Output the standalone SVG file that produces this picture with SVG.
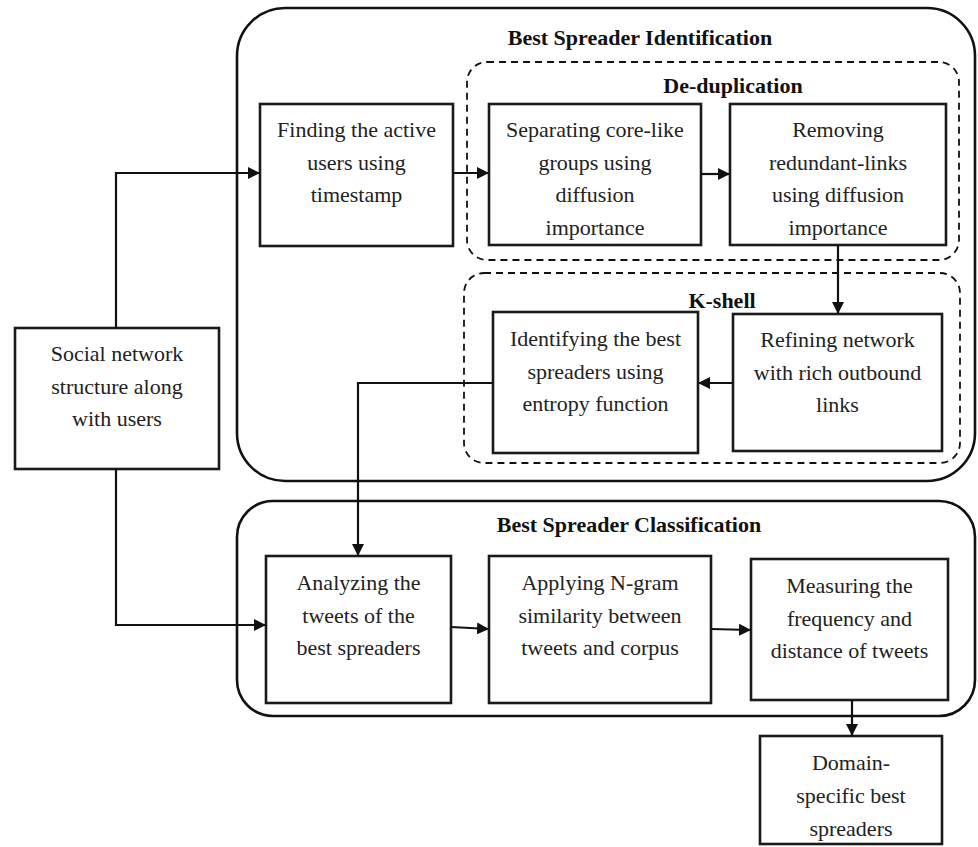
<svg xmlns="http://www.w3.org/2000/svg" width="978" height="847" viewBox="0 0 978 847">
<style>
.box{fill:#fff;stroke:#1a1a1a;stroke-width:2.6}
.cont{fill:none;stroke:#111;stroke-width:2.6}
.dash{fill:none;stroke:#111;stroke-width:1.8;stroke-dasharray:7,5}
.t{font-family:"Liberation Serif","Times New Roman",serif;font-size:22px;fill:#222;text-anchor:middle}
.h{font-family:"Liberation Serif","Times New Roman",serif;font-size:22px;font-weight:bold;fill:#111;text-anchor:middle}
.c{fill:none;stroke:#111;stroke-width:2.2}
</style>
<defs>
<marker id="ah" markerUnits="userSpaceOnUse" markerWidth="14" markerHeight="12" refX="12" refY="6" orient="auto">
<path d="M0,0 L12,6 L0,12 Z" fill="#111"/>
</marker>
</defs>
<rect width="978" height="847" fill="#fff"/>
<g id="group-identification">
<rect class="cont" x="237" y="8" width="738" height="473" rx="48" ry="48"/>
<text class="h" x="640" y="45">Best Spreader Identification</text>
</g>
<g id="group-dedup">
<rect class="dash" x="467" y="62" width="492" height="198" rx="20" ry="20"/>
<text class="h" x="733" y="93">De-duplication</text>
</g>
<g id="group-kshell">
<rect class="dash" x="464" y="273" width="496" height="190" rx="20" ry="20"/>
<text class="h" x="722" y="308">K-shell</text>
</g>
<g id="group-classification">
<rect class="cont" x="237" y="501" width="738" height="215" rx="36" ry="36"/>
<text class="h" x="629" y="532">Best Spreader Classification</text>
</g>
<g id="node-finding">
<rect class="box" x="260" y="104" width="193" height="142"/>
<text class="t" x="356.5" y="137">Finding the active</text>
<text class="t" x="356.5" y="169.5">users using</text>
<text class="t" x="356.5" y="202">timestamp</text>
</g>
<g id="node-separating">
<rect class="box" x="489" y="104" width="212" height="141"/>
<text class="t" x="595" y="137">Separating core-like</text>
<text class="t" x="595" y="169.5">groups using</text>
<text class="t" x="595" y="202">diffusion</text>
<text class="t" x="595" y="234.5">importance</text>
</g>
<g id="node-removing">
<rect class="box" x="730" y="104" width="216" height="141"/>
<text class="t" x="838" y="137">Removing</text>
<text class="t" x="838" y="169.5">redundant-links</text>
<text class="t" x="838" y="202">using diffusion</text>
<text class="t" x="838" y="234.5">importance</text>
</g>
<g id="node-identifying">
<rect class="box" x="493" y="312" width="205" height="141"/>
<text class="t" x="595.5" y="346">Identifying the best</text>
<text class="t" x="595.5" y="378.5">spreaders using</text>
<text class="t" x="595.5" y="411">entropy function</text>
</g>
<g id="node-refining">
<rect class="box" x="733" y="314" width="209" height="137"/>
<text class="t" x="837.5" y="347">Refining network</text>
<text class="t" x="837.5" y="379.5">with rich outbound</text>
<text class="t" x="837.5" y="412">links</text>
</g>
<g id="node-social">
<rect class="box" x="15" y="328" width="204" height="141"/>
<text class="t" x="117" y="361">Social network</text>
<text class="t" x="117" y="393.5">structure along</text>
<text class="t" x="117" y="426">with users</text>
</g>
<g id="node-analyzing">
<rect class="box" x="266" y="556" width="185" height="147"/>
<text class="t" x="358.5" y="590">Analyzing the</text>
<text class="t" x="358.5" y="622.5">tweets of the</text>
<text class="t" x="358.5" y="655">best spreaders</text>
</g>
<g id="node-applying">
<rect class="box" x="489" y="556" width="222" height="147"/>
<text class="t" x="600" y="590">Applying N-gram</text>
<text class="t" x="600" y="622.5">similarity between</text>
<text class="t" x="600" y="655">tweets and corpus</text>
</g>
<g id="node-measuring">
<rect class="box" x="751" y="559" width="197" height="141"/>
<text class="t" x="849.5" y="593">Measuring the</text>
<text class="t" x="849.5" y="625.5">frequency and</text>
<text class="t" x="849.5" y="658">distance of tweets</text>
</g>
<g id="node-domain">
<rect class="box" x="760" y="736" width="182" height="108"/>
<text class="t" x="851" y="770">Domain-</text>
<text class="t" x="851" y="803">specific best</text>
<text class="t" x="851" y="836">spreaders</text>
</g>
<g id="connectors">
<path class="c" d="M116,328 V173 H260" marker-end="url(#ah)"/>
<path class="c" d="M453,173 H489" marker-end="url(#ah)"/>
<path class="c" d="M701,174 H730" marker-end="url(#ah)"/>
<path class="c" d="M838,245 V314" marker-end="url(#ah)"/>
<path class="c" d="M733,383 H698" marker-end="url(#ah)"/>
<path class="c" d="M493,383 H358 V556" marker-end="url(#ah)"/>
<path class="c" d="M116,469 V625 H266" marker-end="url(#ah)"/>
<path class="c" d="M451,627 L489,629" marker-end="url(#ah)"/>
<path class="c" d="M711,629 L751,630" marker-end="url(#ah)"/>
<path class="c" d="M852,700 V736" marker-end="url(#ah)"/>
</g>
</svg>
